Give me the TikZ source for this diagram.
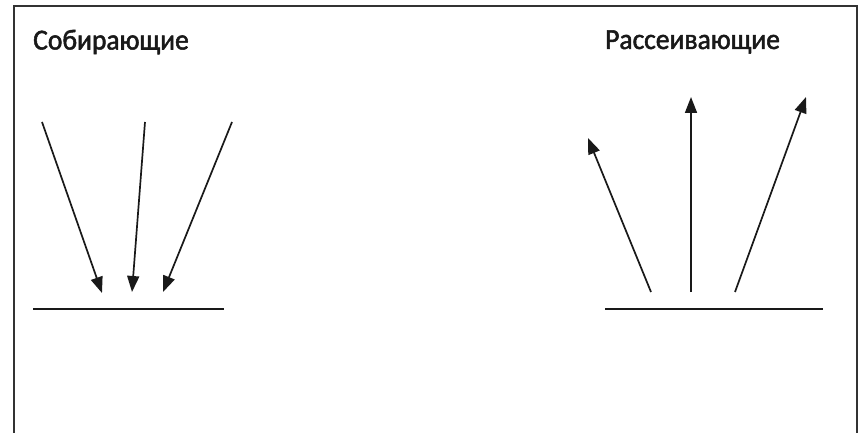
\documentclass[tikz,border=0pt]{standalone}
\usepackage{fontspec}
\setmainfont{Carlito}[FakeBold=1.8,FakeStretch=0.95]
\usetikzlibrary{arrows.meta}
\tikzset{
  ray/.style={line width=1.7pt, -{Triangle[length=16pt,width=12pt]}, draw=black!90},
  surface/.style={line width=2.2pt, draw=black!90},
  title/.style={font=\fontsize{29}{34}\selectfont, text=black!90, inner sep=0pt, anchor=west},
}
\begin{document}
\begin{tikzpicture}[x=1pt,y=-1pt]
\useasboundingbox (0,0) rectangle (862,433);
\fill[white] (0,0) rectangle (862,433);
\draw[line width=2pt, draw=black!80] (14,433) -- (14,6) -- (857,6) -- (857,433);
\node[title] (t1) at (33,42) {Собирающие};
\node[title] (t2) at (605,42) {Рассеивающие};
% converging
\coordinate (a1s) at (42,122); \coordinate (a1e) at (102,293);
\coordinate (a2s) at (145,122); \coordinate (a2e) at (132,292);
\coordinate (a3s) at (232,122); \coordinate (a3e) at (163,292);
\coordinate (l1a) at (33,309); \coordinate (l1b) at (224,309);
\draw[ray] (a1s) -- (a1e);
\draw[ray] (a2s) -- (a2e);
\draw[ray] (a3s) -- (a3e);
\draw[surface] (l1a) -- (l1b);
% diverging
\coordinate (b1s) at (651,292); \coordinate (b1e) at (588,138);
\coordinate (b2s) at (691,292); \coordinate (b2e) at (691,97);
\coordinate (b3s) at (735,292); \coordinate (b3e) at (806,97);
\coordinate (l2a) at (605,309); \coordinate (l2b) at (823,309);
\draw[ray] (b1s) -- (b1e);
\draw[ray] (b2s) -- (b2e);
\draw[ray] (b3s) -- (b3e);
\draw[surface] (l2a) -- (l2b);
\end{tikzpicture}
\end{document}
